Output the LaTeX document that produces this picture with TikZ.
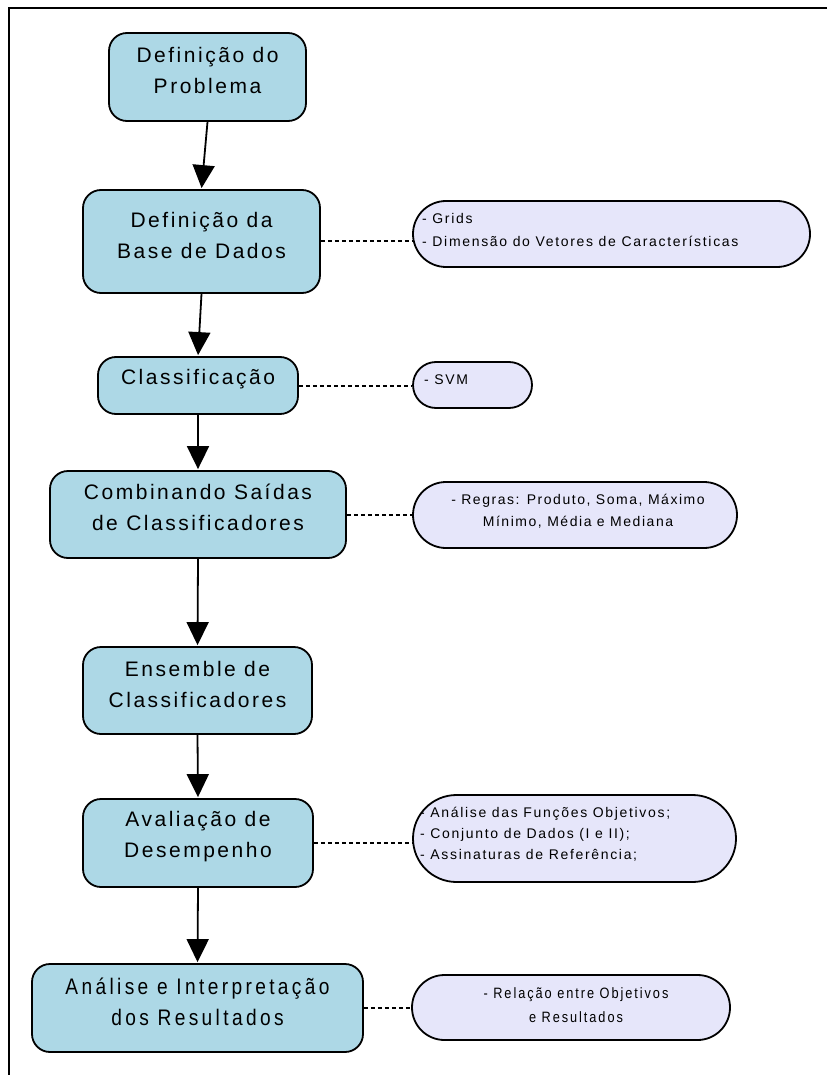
\documentclass[tikz,border=0pt]{standalone}
\usepackage{fontspec}
\setmainfont{Liberation Sans}
\newfontfamily\boxfont[LetterSpace=12]{Liberation Sans}
\newfontfamily\notefont[LetterSpace=12]{Liberation Sans}
\newfontfamily\rulefont[LetterSpace=11]{Liberation Sans}
\newfontfamily\narrowfont[FakeStretch=0.85,LetterSpace=15]{Liberation Sans}
\newfontfamily\narrownote[FakeStretch=0.85,LetterSpace=13]{Liberation Sans}
\usetikzlibrary{arrows.meta,shapes.misc}
\definecolor{boxblue}{HTML}{ADD8E6}
\definecolor{notelav}{HTML}{E6E6FA}
\tikzset{
  stepbox/.style={draw=black, line width=1.8pt, fill=boxblue, rounded corners=18pt, inner sep=0pt},
  notebox/.style={rounded rectangle, draw=black, line width=1.8pt, fill=notelav, inner sep=0pt},
  steptext/.style={align=center, inner sep=0pt, font=\boxfont\fontsize{21}{31}\selectfont},
  narrowtext/.style={align=center, inner sep=0pt, font=\narrowfont\fontsize{22.5}{31}\selectfont},
  notetext/.style={inner sep=0pt, font=\notefont\fontsize{14}{22}\selectfont},
  flow/.style={line width=1.8pt, -{Triangle[length=23pt,width=22pt]}, shorten >=1pt},
  link/.style={line width=2pt, dash pattern=on 4pt off 3pt},
}
\begin{document}
\begin{tikzpicture}[x=1pt,y=-1pt]
\useasboundingbox (0,0) rectangle (827,1075);
% page frame (top and left edges)
\draw[line width=2pt] (827,8) -- (9,8) -- (9,1075);

% main process steps
\node[stepbox, minimum width=197pt, minimum height=88pt] (b1) at (207.5,77) {};
\node[stepbox, minimum width=237pt, minimum height=103pt] (b2) at (201.5,241.5) {};
\node[stepbox, minimum width=200pt, minimum height=57pt] (b3) at (198,385.5) {};
\node[stepbox, minimum width=296pt, minimum height=87pt] (b4) at (198,514.5) {};
\node[stepbox, minimum width=229pt, minimum height=87pt] (b5) at (197.5,690.5) {};
\node[stepbox, minimum width=230pt, minimum height=88pt] (b6) at (198,843) {};
\node[stepbox, minimum width=331pt, minimum height=88pt] (b7) at (197.5,1008) {};

\node[steptext] (t1) at (207.5,70) {Definição do\\Problema};
\node[steptext] (t2) at (201.5,235) {Definição da\\Base de Dados};
\node[steptext] (t3) at (198,379) {Classificação};
\node[steptext] (t4) at (198,507.5) {Combinando Saídas\\de Classificadores};
\node[steptext] (t5) at (197.5,684) {Ensemble de\\Classificadores};
\node[steptext] (t6) at (198,836.5) {Avaliação de\\Desempenho};
\node[narrowtext] (t7) at (197.5,1002) {Análise e Interpretação\\dos Resultados};

% side notes
\node[notebox, minimum width=397pt, minimum height=66pt] (n1) at (611.5,234) {};
\node[notebox, minimum width=119pt, minimum height=46pt] (n2) at (472.5,385) {};
\node[notebox, minimum width=324pt, minimum height=66pt] (n3) at (575,515) {};
\node[notebox, minimum width=323pt, minimum height=87pt] (n4) at (574.5,838.5) {};
\node[notebox, minimum width=318pt, minimum height=65pt] (n5) at (571,1007.5) {};

\node[notetext, anchor=west, align=left, font=\notefont\fontsize{14}{23}\selectfont] (m1) at (422,229.5)
  {- Grids\\- Dimensão do Vetores de Características};
\node[notetext, anchor=west] (m2) at (424,380) {- SVM};
\node[notetext, align=center, font=\rulefont\fontsize{14}{22}\selectfont] (m3) at (578,511)
  {- Regras: Produto, Soma, Máximo\\Mínimo, Média e Mediana};
\node[notetext, anchor=west, align=left, font=\notefont\fontsize{14}{21}\selectfont] (m4) at (420,834)
  {- Análise das Funções Objetivos;\\- Conjunto de Dados (I e II);\\- Assinaturas de Referência;};
\node[notetext, align=center, font=\narrownote\fontsize{15}{24}\selectfont] (m5) at (576,1005)
  {- Relação entre Objetivos\\e Resultados};

% flow arrows
\draw[flow] (b1.south) -- (b2.north);
\draw[flow] (b2.south) -- (b3.north);
\draw[flow] (b3.south) -- (b4.north);
\draw[flow] (b4.south) -- (b5.north);
\draw[flow] (b5.south) -- (b6.north);
\draw[flow] (b6.south) -- (b7.north);

% dotted links to the notes
\draw[link] (b2.east) -- (b2.east -| n1.west);
\draw[link] (b3.east) -- (b3.east -| n2.west);
\draw[link] (b4.east) -- (b4.east -| n3.west);
\draw[link] (b6.east) -- (b6.east -| n4.west);
\draw[link] (b7.east) -- (b7.east -| n5.west);
\end{tikzpicture}
\end{document}
